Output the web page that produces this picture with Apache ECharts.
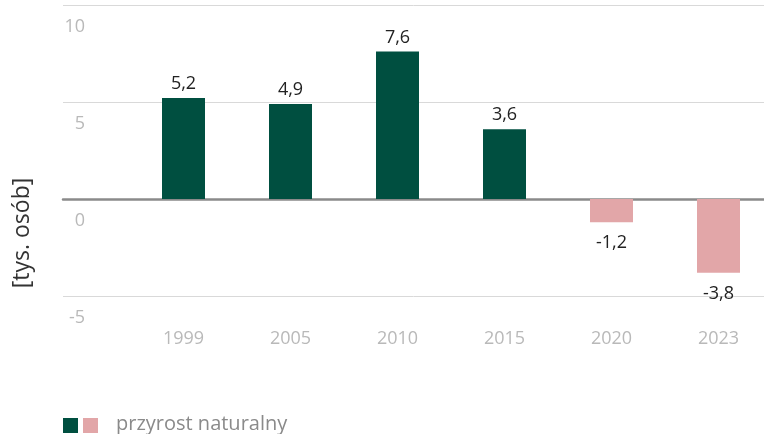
<!DOCTYPE html>
<html>
<head>
<meta charset="utf-8">
<script src="https://cdn.jsdelivr.net/npm/echarts@6/dist/echarts.min.js"></script>
<style>
  html, body { margin: 0; padding: 0; background: #fff; }
  #main { width: 764px; height: 434px; }
</style>
</head>
<body>
<div id="main"></div>
<script>
// dane
var years = ['1999', '2005', '2010', '2015', '2020', '2023'];
var values = [5.2, 4.9, 7.6, 3.6, -1.2, -3.8];
var yTicks = [-5, 0, 5, 10];

var FONT = '"Open Sans", "Noto Sans", sans-serif';
var green = '#004f40';
var pink = '#e2a6a8';

var chart = echarts.init(document.getElementById('main'));

var fmt = function (v) { return String(v).replace('.', ','); };

chart.setOption({
  animation: false,
  grid: [
    // siatka z liniami pomocniczymi
    { left: 63, right: 0, top: 5, bottom: 138, outerBoundsMode: 'none' },
    // słupki (wychodzą trochę poza prawą krawędź, jak w oryginale)
    { left: 130, width: 642, top: 5, bottom: 138, outerBoundsMode: 'none' }
  ],
  xAxis: [
    {
      gridIndex: 0, type: 'value',
      axisLabel: { show: false }, axisTick: { show: false }, splitLine: { show: false },
      axisLine: { show: true, onZero: true, lineStyle: { color: '#8a8a8a', width: 2.5 } }
    },
    {
      gridIndex: 1, type: 'category', data: years,
      axisLine: { show: false, onZero: false }, axisTick: { show: false },
      axisLabel: { color: '#b9b9b9', fontSize: 18, fontFamily: FONT, margin: 34 }
    }
  ],
  yAxis: [
    {
      gridIndex: 0, type: 'value', min: yTicks[0], max: yTicks[yTicks.length - 1], interval: 5,
      axisLine: { show: false }, axisTick: { show: false },
      splitLine: { lineStyle: { color: '#d9d9d9', width: 1 } },
      axisLabel: {
        color: '#b9b9b9', fontSize: 18, fontFamily: FONT, margin: -22,
        verticalAlign: 'top', padding: [13, 0, 0, 0]
      }
    },
    {
      gridIndex: 1, type: 'value', min: yTicks[0], max: yTicks[yTicks.length - 1], interval: 5,
      show: false
    }
  ],
  series: [
    {
      type: 'bar',
      xAxisIndex: 1, yAxisIndex: 1,
      barWidth: 43,
      data: values.map(function (v) {
        return {
          value: v,
          itemStyle: { color: v >= 0 ? green : pink },
          label: { position: v >= 0 ? 'top' : 'bottom', distance: v >= 0 ? 5 : 12 }
        };
      }),
      label: {
        show: true,
        color: '#222', fontSize: 18, fontFamily: FONT,
        formatter: function (p) { return fmt(p.value); }
      }
    }
  ],
  graphic: [
    {
      type: 'text', x: 22, y: 233, rotation: Math.PI / 2,
      style: {
        text: '[tys. osób]', fill: '#333', font: '23px ' + FONT,
        align: 'center', verticalAlign: 'middle'
      }
    },
    { type: 'rect', shape: { x: 63, y: 418, width: 15, height: 15 }, style: { fill: green } },
    { type: 'rect', shape: { x: 83, y: 418, width: 15, height: 15 }, style: { fill: pink } },
    {
      type: 'text', x: 116, y: 424,
      style: {
        text: 'przyrost naturalny', fill: '#8a8a8a', font: '20px ' + FONT,
        verticalAlign: 'middle'
      }
    }
  ]
});
</script>
</body>
</html>
